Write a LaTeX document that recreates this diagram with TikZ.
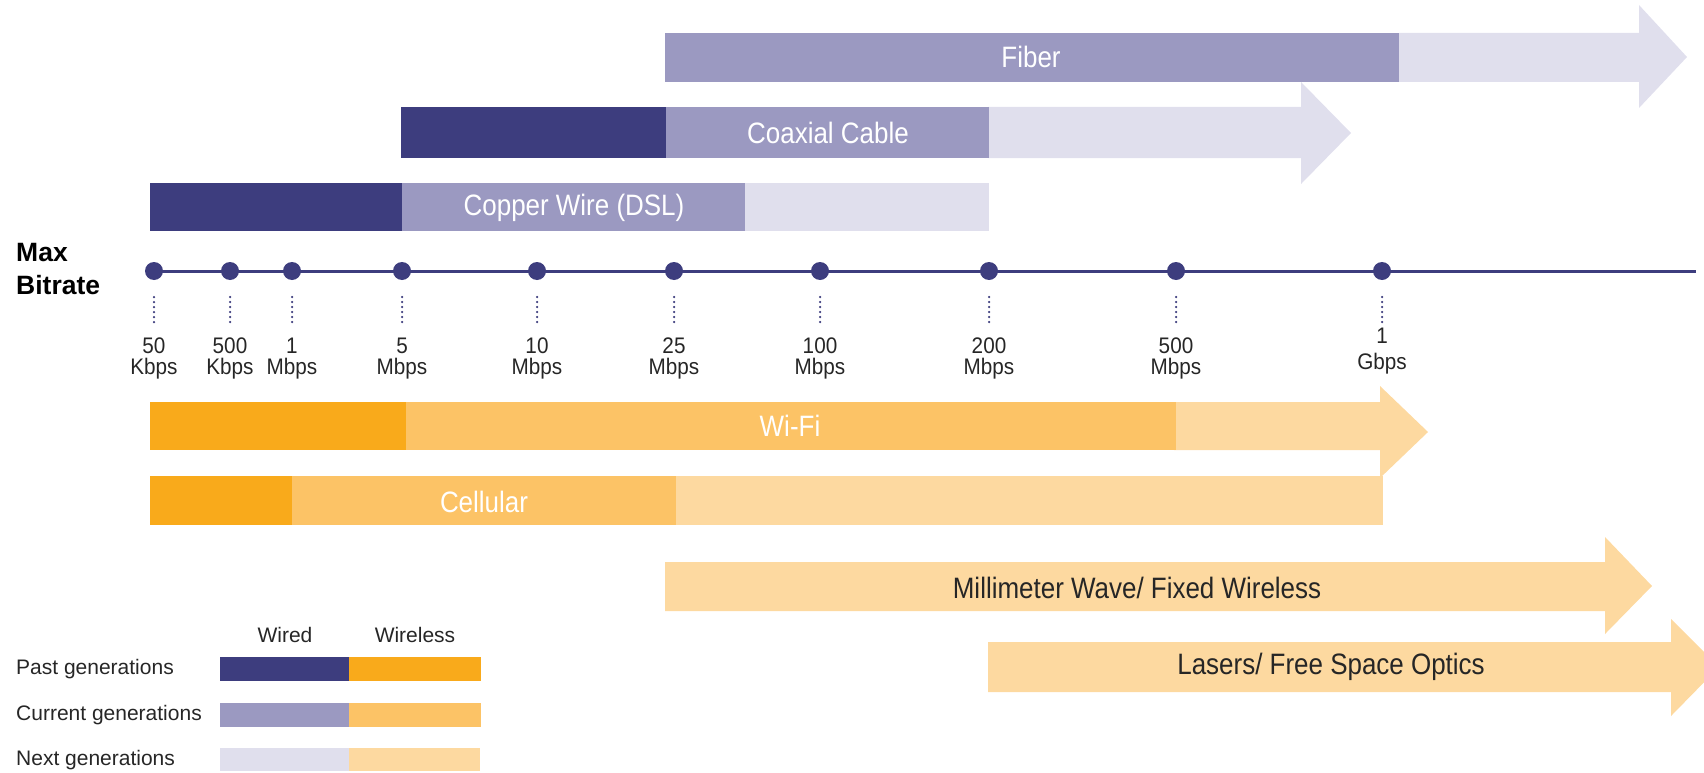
\documentclass[tikz,border=0pt]{standalone}
\usepackage{fontspec}
\setmainfont{Liberation Sans}
\newfontfamily\condfont{Liberation Sans}[FakeStretch=0.88]
\newfontfamily\labfont{Liberation Sans}[FakeStretch=0.92]
\definecolor{navy}{HTML}{3D3D7E}
\definecolor{curw}{HTML}{9B99C1}
\definecolor{nextw}{HTML}{E0DFED}
\definecolor{pasto}{HTML}{F9AA1B}
\definecolor{curo}{HTML}{FCC366}
\definecolor{nexto}{HTML}{FDD9A0}
\definecolor{txt}{HTML}{262626}
\tikzset{
  barlabel/.style={text=white, inner sep=0pt, font=\condfont\fontsize{29.5}{31}\selectfont},
  darklabel/.style={text=txt, inner sep=0pt, font=\condfont\fontsize{29.5}{31}\selectfont},
  ratelabel/.style={text=txt, inner sep=0pt, align=center, anchor=north, font=\labfont\fontsize{22.5}{21}\selectfont},
  legtext/.style={text=txt, inner sep=0pt, anchor=west, font=\fontsize{21}{22}\selectfont},
  headtext/.style={text=txt, inner sep=0pt, font=\fontsize{21}{22}\selectfont},
  axisdot/.style={circle, fill=navy, minimum size=18pt, inner sep=0pt},
  tickline/.style={navy, line width=2.5pt, line cap=round, dash pattern=on 0pt off 5pt},
}
\begin{document}
\begin{tikzpicture}[x=1pt,y=-1pt]
\useasboundingbox (0,0) rectangle (1704,773);

% ---------- Fiber ----------
\fill[curw] (665,33) rectangle (1400,82);
\fill[nextw] (1399,33) -- (1639,33) -- (1639,5) -- (1687,57) -- (1639,108) -- (1639,82) -- (1399,82) -- cycle;
\node[barlabel] (fiber) at (1031,57) {Fiber};

% ---------- Coaxial ----------
\fill[nextw] (988,107) -- (1301,107) -- (1301,82) -- (1351,133) -- (1301,184) -- (1301,158) -- (988,158) -- cycle;
\fill[navy] (401,107) rectangle (667,158);
\fill[curw] (666,107) rectangle (989,158);
\node[barlabel] (coax) at (828,133) {Coaxial Cable};

% ---------- Copper ----------
\fill[navy] (150,183) rectangle (403,231);
\fill[curw] (402,183) rectangle (746,231);
\fill[nextw] (745,183) rectangle (989,231);
\node[barlabel] (copper) at (574,208) {Copper Wire (DSL)};

% ---------- Axis ----------
\node[anchor=west, inner sep=0pt, font=\bfseries\fontsize{26.5}{28}\selectfont] (max) at (16,253) {Max};
\node[anchor=west, inner sep=0pt, font=\bfseries\fontsize{26.5}{28}\selectfont] (bitrate) at (16,285) {Bitrate};

\coordinate (axstart) at (154,271);
\coordinate (axend) at (1696,271);
\draw[navy, line width=3pt] (axstart) -- (axend);

\foreach \n/\x/\a/\b in {d1/154/50/Kbps, d2/230/500/Kbps, d3/292/1/Mbps, d4/402/5/Mbps, d5/537/10/Mbps, d6/674/25/Mbps, d7/820/100/Mbps, d8/989/200/Mbps, d9/1176/500/Mbps}{
  \node[axisdot] (\n) at (\x,271) {};
  \coordinate (\n t) at (\x,297);
  \coordinate (\n b) at (\x,326);
  \draw[tickline] (\n t) -- (\n b);
  \node[ratelabel] (\n l) at (\x,338) {\a\\\b};
}
\node[axisdot] (d10) at (1382,271) {};
\coordinate (d10t) at (1382,297);
\coordinate (d10b) at (1382,326);
\draw[tickline] (d10t) -- (d10b);
\node[ratelabel] (d10l) at (1382,328) {1\\[5pt]Gbps};

% ---------- Cellular ----------
\fill[pasto] (150,476) rectangle (293,525);
\fill[curo] (292,476) rectangle (677,525);
\fill[nexto] (676,476) rectangle (1383,525);
\node[barlabel] (cell) at (484,502) {Cellular};

% ---------- Wi-Fi ----------
\fill[nexto] (1174,402) -- (1380,402) -- (1380,386) -- (1428,432) -- (1380,478) -- (1380,450) -- (1174,450) -- cycle;
\fill[pasto] (150,402) rectangle (407,450);
\fill[curo] (406,402) rectangle (1176,450);
\node[barlabel] (wifi) at (790,426) {Wi-Fi};

% ---------- Millimeter wave ----------
\fill[nexto] (665,562) -- (1605,562) -- (1605,537) -- (1652,586) -- (1605,634) -- (1605,611) -- (665,611) -- cycle;
\node[darklabel] (mmw) at (1137,588) {Millimeter Wave/ Fixed Wireless};

% ---------- Lasers ----------
\begin{scope}
\clip (0,0) rectangle (1704,773);
\fill[nexto] (988,642) -- (1671,642) -- (1671,619) -- (1719,667) -- (1671,716) -- (1671,692) -- (988,692) -- cycle;
\end{scope}
\node[darklabel] (laser) at (1331,667) {Lasers/ Free Space Optics};

% ---------- Legend ----------
\node[headtext] (wired) at (285,635) {Wired};
\node[headtext] (wireless) at (415,635) {Wireless};
\node[legtext] (past) at (16,669) {Past generations};
\node[legtext] (curr) at (16,715) {Current generations};
\node[legtext] (next) at (16,760) {Next generations};
\fill[navy] (220,657) rectangle (350,681);
\fill[pasto] (349,657) rectangle (481,681);
\fill[curw] (220,703) rectangle (350,727);
\fill[curo] (349,703) rectangle (481,727);
\fill[nextw] (220,748) rectangle (350,771);
\fill[nexto] (349,748) rectangle (480,771);
\end{tikzpicture}
\end{document}
